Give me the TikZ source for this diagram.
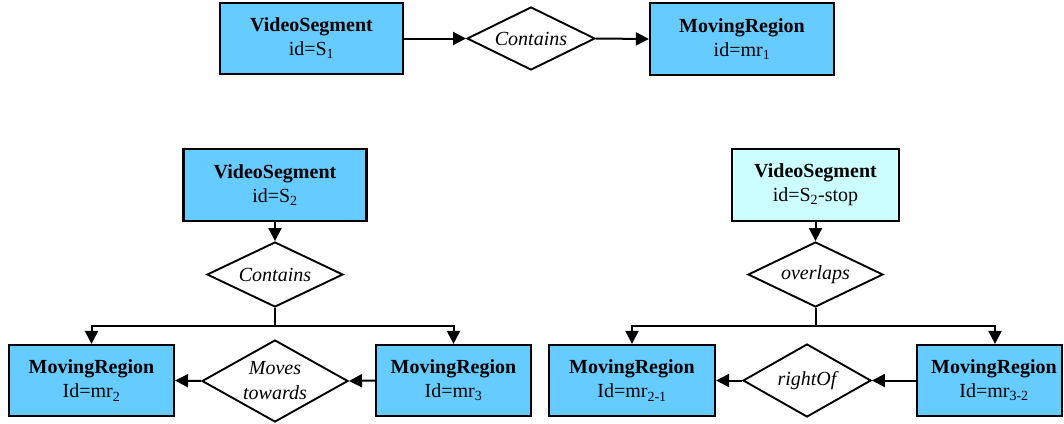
\documentclass[tikz,border=0pt]{standalone}
\usepackage{fontspec}
\setmainfont{Liberation Serif}
\usetikzlibrary{shapes.geometric,arrows.meta,calc}

\definecolor{entblue}{HTML}{66CCFF}
\definecolor{entpale}{HTML}{CCFFFF}

\tikzset{
  entity/.style={draw=black, line width=2.2pt, fill=entblue, rectangle,
    inner sep=0pt, align=center,
    font=\fontsize{20}{24}\selectfont},
  palentity/.style={entity, fill=entpale},
  relation/.style={draw=black, line width=1.9pt, fill=white, diamond,
    inner sep=0pt},
  reltext/.style={font=\fontsize{20}{25}\selectfont\itshape, align=center},
  link/.style={line width=2pt, -{Triangle[length=13pt,width=13pt]}},
  plainlink/.style={line width=2pt}
}

\begin{document}
\begin{tikzpicture}[x=1pt, y=-1pt]
  \useasboundingbox (0,0) rectangle (1064,423);

  % top row: a segment contains a moving region
  \node[entity, minimum width=183pt, minimum height=71pt] (vs1) at (311.5,38.5)
    {\textbf{VideoSegment}\\id=S\textsubscript{1}};
  \node[relation, minimum width=128pt, minimum height=63pt] (c1) at (531,38.5) {};
  \node[reltext] (c1t) at (c1.center) {Contains};
  \node[entity, minimum width=184pt, minimum height=72pt] (mr1) at (742,39)
    {\textbf{MovingRegion}\\id=mr\textsubscript{1}};
  \draw[link] (vs1.east) -- (c1.west);
  \draw[link] (c1.east) -- (mr1.west);

  % lower left: segment S2 and its two regions
  \node[entity, minimum width=183pt, minimum height=72pt] (vs2) at (275,185)
    {\textbf{VideoSegment}\\id=S\textsubscript{2}};
  \node[relation, minimum width=136pt, minimum height=65pt] (c2) at (275,274.5) {};
  \node[reltext] (c2t) at (c2.center) {Contains};
  \node[entity, minimum width=165pt, minimum height=71pt] (mr2) at (91.5,380.5)
    {\textbf{MovingRegion}\\Id=mr\textsubscript{2}};
  \node[relation, minimum width=146pt, minimum height=82pt] (mv) at (275,381) {};
  \node[reltext] (mvt) at (mv.center) {Moves\\towards};
  \node[entity, minimum width=155pt, minimum height=71pt] (mr3) at (453.5,380.5)
    {\textbf{MovingRegion}\\Id=mr\textsubscript{3}};
  \coordinate (j1) at (275,326);
  \draw[link] (vs2.south) -- (c2.north);
  \draw[plainlink] (c2.south) -- (j1);
  \draw[link] (j1) -| (mr2.north);
  \draw[link] (j1) -| (mr3.north);
  \draw[link] (mr3.west) -- (mv.east);
  \draw[link] (mv.west) -- (mr2.east);

  % lower right: segment S2-stop and its overlapping regions
  \node[palentity, minimum width=167pt, minimum height=72pt] (vs3) at (815.5,185)
    {\textbf{VideoSegment}\\id=S\textsubscript{2}-stop};
  \node[relation, minimum width=135pt, minimum height=65pt] (ov) at (815.5,274.5) {};
  \node[reltext] (ovt) at (ov.center) {overlaps};
  \node[entity, minimum width=166pt, minimum height=71pt] (mr21) at (632,380.5)
    {\textbf{MovingRegion}\\Id=mr\textsubscript{2-1}};
  \node[relation, minimum width=128pt, minimum height=73pt] (ro) at (807,380.5) {};
  \node[reltext] (rot) at (ro.center) {rightOf};
  \node[entity, minimum width=145pt, minimum height=71pt, text width=145pt]
    (mr32) at (989.5,380.5)
    {\hspace*{9pt}\textbf{MovingRegion}\\\hspace*{9pt}Id=mr\textsubscript{3-2}};
  \coordinate (j2) at (815.5,326);
  \draw[link] (vs3.south) -- (ov.north);
  \draw[plainlink] (ov.south) -- (j2);
  \draw[link] (j2) -| (mr21.north);
  \draw[link] (j2) -| ($(mr32.north)+(5.5,0)$);
  \draw[link] (mr32.west) -- (ro.east);
  \draw[link] (ro.west) -- (mr21.east);
\end{tikzpicture}
\end{document}
